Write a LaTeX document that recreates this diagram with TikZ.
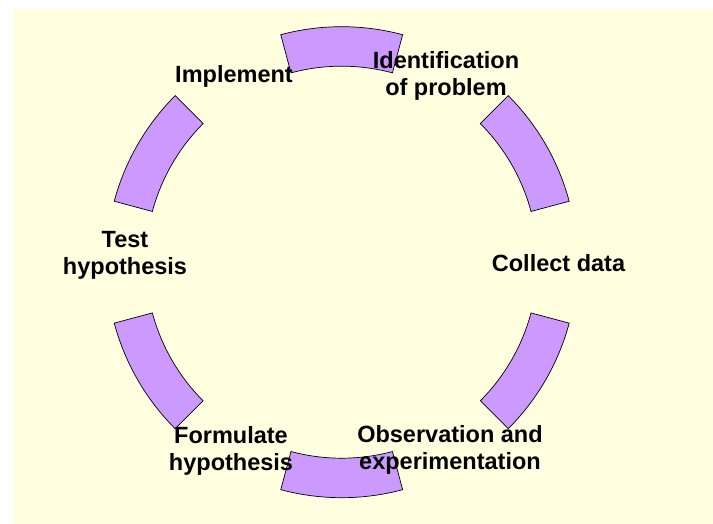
\documentclass[tikz,border=0pt]{standalone}
\usepackage{fontspec}
\setmainfont{Liberation Sans}

\definecolor{paleyellow}{HTML}{FFFFE0}
\definecolor{lilac}{HTML}{CC99FF}

\tikzset{
  segment/.style={draw=black, line width=0.7pt, fill=lilac},
  steplabel/.style={align=center, font=\fontsize{23.5}{27}\selectfont\bfseries, inner sep=0pt}
}

\begin{document}
\begin{tikzpicture}[x=1pt, y=1pt]

	\useasboundingbox (0,0) rectangle (713,524);
	\fill[paleyellow] (13,0) rectangle (713,514.5);

	\coordinate (O) at (341.7,261.8);

	% six arc pieces, one between each pair of steps
	\begin{scope}[shift={(O)}]
		\foreach \a in {90,30,-30,-90,-150,150}
			\draw[segment] (\a-15:196pt) arc (\a-15:\a+15:196pt)
				-- (\a+15:235.5pt) arc (\a+15:\a-15:235.5pt) -- cycle;
	\end{scope}

	\node[steplabel] (ident) at (446,448) {Identification\\of problem};
	\node[steplabel] (collect) at (558.5,261) {Collect data};
	\node[steplabel] (observ) at (450,74.5) {Observation and\\experimentation};
	\node[steplabel] (formul) at (231,73.5) {Formulate\\hypothesis};
	\node[steplabel] (test) at (125,269) {Test\\hypothesis};
	\node[steplabel] (impl) at (234,447.5) {Implement};

\end{tikzpicture}
\end{document}
